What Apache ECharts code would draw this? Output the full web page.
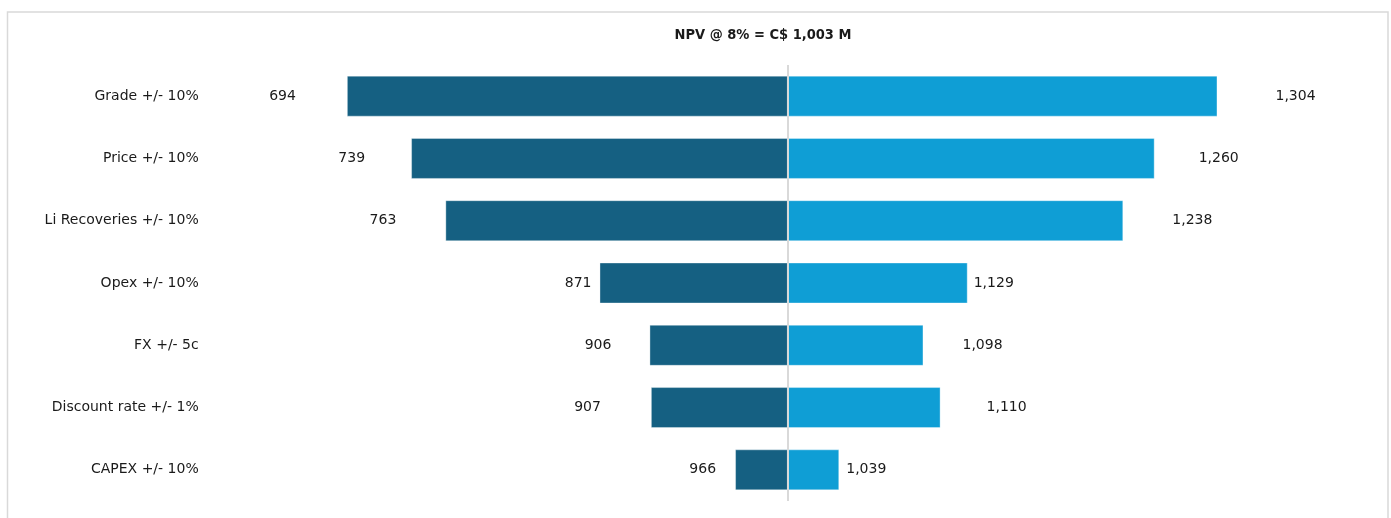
<!DOCTYPE html>
<html>
<head>
<meta charset="utf-8">
<script src="https://cdn.jsdelivr.net/npm/echarts@6/dist/echarts.min.js"></script>
<style>
  html, body { margin: 0; padding: 0; background: #ffffff; }
  #chart { width: 1391px; height: 518px; }
</style>
</head>
<body>
<div id="chart"></div>
<script>
// ---- data ----
const categories = ['Grade +/- 10%', 'Price +/- 10%', 'Li Recoveries +/- 10%', 'Opex +/- 10%', 'FX +/- 5c', 'Discount rate +/- 1%', 'CAPEX +/- 10%'];
const lowValues = [694, 739, 763, 871, 906, 907, 966];
const highValues = [1304, 1260, 1238, 1129, 1098, 1110, 1039];
const baseNPV = 1003;
const titleText = 'NPV @ 8% = C$ 1,003 M';

// ---- styling ----
const FONT = "'DejaVu Sans', sans-serif";
const TEXT = '#1a1a1a';
const leftGap = [51, 46, 49, 8, 38, 50, 19];
const rightGap = [58, 44, 49, 6, 39, 46, 7];
const fmt = v => v.toLocaleString('en-US');

const chart = echarts.init(document.getElementById('chart'), null, { renderer: 'canvas' });

const option = {
  backgroundColor: '#ffffff',
  animation: false,
  title: {
    text: titleText,
    left: 758,
    top: 23,
    textAlign: 'center',
    textStyle: {
      fontFamily: "'Liberation Sans Narrow', 'DejaVu Sans Condensed', sans-serif",
      fontWeight: 'bold',
      fontSize: 14.5,
      color: TEXT
    }
  },
  graphic: [{
    type: 'rect',
    shape: { x: 7.5, y: 12, width: 1380.5, height: 600 },
    style: { fill: 'none', stroke: '#d9d9d9', lineWidth: 1.5 },
    silent: true,
    z: 0
  }],
  grid: { left: 212.7, right: 36.5, top: 65, bottom: 17, containLabel: false },
  xAxis: {
    type: 'value',
    min: 600,
    max: 1400,
    show: false,
    splitLine: { show: false }
  },
  yAxis: {
    type: 'category',
    data: categories,
    inverse: true,
    axisLine: { show: false },
    axisTick: { show: false },
    axisLabel: { margin: 14, fontFamily: FONT, fontSize: 14, color: TEXT }
  },
  series: [
    {
      name: 'base',
      type: 'bar',
      stack: 'npv',
      barWidth: 41,
      silent: true,
      itemStyle: { color: 'transparent' },
      data: lowValues.map(v => v)
    },
    {
      name: 'Low',
      type: 'bar',
      stack: 'npv',
      barWidth: 41,
      itemStyle: { color: '#156082', borderColor: 'rgba(255,255,255,0.35)', borderWidth: 1 },
      data: lowValues.map((v, i) => ({
        value: baseNPV - v,
        label: {
          show: true,
          position: 'left',
          distance: leftGap[i],
          formatter: () => fmt(v),
          fontFamily: FONT,
          fontSize: 14,
          color: TEXT
        }
      }))
    },
    {
      name: 'High',
      type: 'bar',
      stack: 'npv',
      barWidth: 41,
      itemStyle: { color: '#0F9ED5', borderColor: 'rgba(255,255,255,0.35)', borderWidth: 1 },
      data: highValues.map((v, i) => ({
        value: v - baseNPV,
        label: {
          show: true,
          position: 'right',
          distance: rightGap[i],
          formatter: () => fmt(v),
          fontFamily: FONT,
          fontSize: 14,
          color: TEXT
        }
      })),
      markLine: {
        silent: true,
        symbol: 'none',
        label: { show: false },
        lineStyle: { color: '#d9d9d9', width: 2, type: 'solid' },
        data: [{ xAxis: baseNPV }]
      }
    }
  ]
};

chart.setOption(option);
</script>
</body>
</html>
